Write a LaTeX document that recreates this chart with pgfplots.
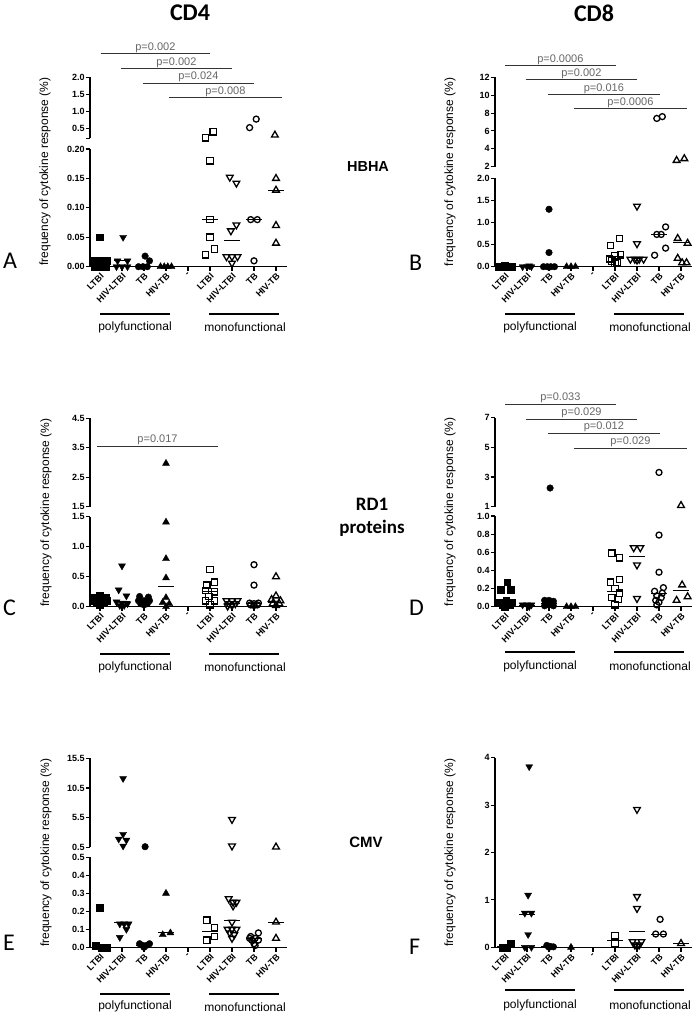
\documentclass[border=0pt]{standalone}
\usepackage{pgfplots}
\pgfplotsset{compat=1.18}
\usepackage{fontspec}
\setmainfont{Liberation Sans}
\newfontfamily\calibri{Carlito}
\newcommand\tlf{\fontsize{9}{10}\selectfont\bfseries}
\pgfplotsset{
  gpbase/.style={scale only axis, clip=false, width=197pt, xmin=-0.4545, xmax=8.5,
    every tick/.style={black, line width=1.1pt},
    tick align=outside, major tick length=4.2pt,
    ticklabel style={font=\tlf},
    yticklabel style={inner sep=1pt}},
  noarr/.style={axis line style={line width=1.1pt, -},
    x axis line style={-}, y axis line style={-},
    every outer x axis line/.append style={-},
    every outer y axis line/.append style={-},
    every inner x axis line/.append style={-},
    every inner y axis line/.append style={-}},
  gplow/.style={gpbase, axis x line*=bottom, axis y line*=left, xtick pos=bottom, ytick pos=left,
    xtick={0,...,8},
    xticklabels={LTBI,HIV-LTBI,TB,HIV-TB,-,LTBI,HIV-LTBI,TB,HIV-TB},
    xticklabel style={rotate=45, anchor=north east, inner sep=1pt}, noarr},
  gpup/.style={gpbase, axis x line=none, axis y line*=left, ytick pos=left, xtick=\empty, noarr},
  fsq/.style={only marks, mark=square*, mark size=3.4pt, mark options={draw=black, fill=black, line width=0.4pt}},
  fdt/.style={only marks, mark=triangle*, mark size=4pt, mark options={rotate=180, draw=black, fill=black, line width=0.4pt}},
  fci/.style={only marks, mark=*, mark size=3.3pt, mark options={draw=black, fill=black, line width=0.4pt}},
  fut/.style={only marks, mark=triangle*, mark size=4pt, mark options={draw=black, fill=black, line width=0.4pt}},
  osq/.style={only marks, mark=square, mark size=3.2pt, mark options={draw=black, line width=1.3pt}},
  odt/.style={only marks, mark=triangle, mark size=3.9pt, mark options={rotate=180, draw=black, line width=1.3pt}},
  oci/.style={only marks, mark=o, mark size=3.0pt, mark options={draw=black, line width=1.3pt}},
  out/.style={only marks, mark=triangle, mark size=3.9pt, mark options={draw=black, line width=1.3pt}},
  med/.style={no markers, black, line width=1pt},
}
\tikzset{
  ptext/.style={font=\fontsize{11}{13}\selectfont, text=black!60, anchor=south, inner sep=1pt},
  pline/.style={draw=black!80, line width=1pt},
  grp/.style={font=\fontsize{12}{14}\selectfont},
  gbar/.style={line width=2.2pt},
  ylab/.style={font=\fontsize{12}{14}\selectfont, rotate=90},
  letter/.style={font=\calibri\fontsize{24}{26}\selectfont, anchor=west, inner sep=0pt},
}
\begin{document}
\begin{tikzpicture}
\path (0,0) rectangle (698pt,-1019pt);

% ================= Panel A =================
\begin{axis}[gplow, at={(90pt,-266.7pt)}, anchor=south west, height=117.7pt,
  ymin=0, ymax=0.2, ytick={0,0.05,0.1,0.15,0.2}, yticklabels={0.00,0.05,0.10,0.15,0.20}]
\addplot[fsq] coordinates {(0,0.05)(-0.25,0.01)(0.05,0.01)(0.3,0.01)(-0.25,0)(0,0)(0.25,0)};
\addplot[fdt] coordinates {(1.05,0.05)(0.8,0.01)(1.25,0.01)(0.75,0)(1.0,0)(1.25,0)};
\addplot[fci] coordinates {(2.05,0.018)(2.25,0.01)(1.75,0)(1.95,0)(2.15,0)};
\addplot[fut] coordinates {(2.75,0)(2.92,0)(3.08,0)(3.25,0)};
\addplot[med] coordinates {(-0.35,0.01)(0.35,0.01)};
\addplot[med] coordinates {(0.65,0.01)(1.35,0.01)};
\addplot[med] coordinates {(1.65,0)(2.35,0)};
\addplot[osq] coordinates {(5,0.18)(5,0.08)(5,0.05)(4.8,0.02)(5.2,0.03)};
\addplot[odt] coordinates {(5.9,0.152)(6.2,0.142)(6.2,0.071)(5.95,0.061)(5.75,0.017)(6.0,0.017)(6.25,0.017)(6.0,0.006)};
\addplot[oci] coordinates {(6.85,0.08)(7.15,0.08)(7.0,0.01)};
\addplot[out] coordinates {(8,0.15)(8,0.13)(8,0.07)(8,0.04)};
\addplot[med] coordinates {(4.65,0.08)(5.35,0.08)};
\addplot[med] coordinates {(5.65,0.045)(6.35,0.045)};
\addplot[med] coordinates {(6.65,0.08)(7.35,0.08)};
\addplot[med] coordinates {(7.65,0.13)(8.35,0.13)};
\end{axis}
\begin{axis}[gpup, at={(90pt,-138.5pt)}, anchor=south west, height=61.2pt,
  ymin=0.2, ymax=2, ytick={0.5,1,1.5,2}, yticklabels={0.5,1.0,1.5,2.0},
  extra y ticks={0.2}, extra y tick labels={}]
\addplot[osq] coordinates {(4.8,0.22)(5.15,0.40)};
\addplot[oci] coordinates {(6.8,0.52)(7.1,0.77)};
\addplot[out] coordinates {(7.95,0.30)};
\end{axis}

% ================= Panel B =================
\begin{axis}[gplow, at={(495pt,-266.7pt)}, anchor=south west, height=88.4pt,
  ymin=0, ymax=2, ytick={0,0.5,1,1.5,2}, yticklabels={0.0,0.5,1.0,1.5,2.0}]
\addplot[fsq] coordinates {(-0.3,0)(-0.1,0)(0.1,0)(0.3,0)(0,0.02)(-0.2,0.01)(0.2,0.01)};
\addplot[fdt] coordinates {(0.8,0)(1.0,0)(1.2,0)(1.1,0.02)};
\addplot[fci] coordinates {(2,1.3)(2,0.32)(1.75,0)(1.92,0)(2.08,0)(2.25,0)};
\addplot[fut] coordinates {(2.8,0)(3.0,0)(3.2,0)};
\addplot[osq] coordinates {(5.2,0.64)(4.8,0.48)(5.25,0.27)(5.0,0.25)(4.75,0.18)(4.85,0.13)(5.1,0.1)(5.0,0.08)};
\addplot[odt] coordinates {(6,1.37)(6,0.52)(5.7,0.17)(5.9,0.17)(6.1,0.17)(6.3,0.17)(6.0,0.15)};
\addplot[oci] coordinates {(7.3,0.9)(6.9,0.73)(7.1,0.73)(7.3,0.42)(6.8,0.26)};
\addplot[out] coordinates {(7.85,0.64)(8.3,0.53)(7.85,0.19)(8.05,0.09)(8.25,0.09)};
\addplot[med] coordinates {(4.65,0.22)(5.35,0.22)};
\addplot[med] coordinates {(5.65,0.2)(6.35,0.2)};
\addplot[med] coordinates {(6.65,0.73)(7.35,0.73)};
\addplot[med] coordinates {(7.65,0.55)(8.35,0.55)};
\end{axis}
\begin{axis}[gpup, at={(495pt,-166.7pt)}, anchor=south west, height=89.4pt,
  ymin=2, ymax=12, ytick={2,4,6,8,10,12}, yticklabels={2,4,6,8,10,12}]
\addplot[oci] coordinates {(6.9,7.4)(7.15,7.6)};
\addplot[out] coordinates {(7.8,2.7)(8.15,2.9)};
\end{axis}

% ================= Panel C =================
\begin{axis}[gplow, at={(90pt,-606.7pt)}, anchor=south west, height=90pt,
  ymin=0, ymax=1.5, ytick={0,0.5,1,1.5}, yticklabels={0.0,0.5,1.0,1.5}]
\addplot[fsq] coordinates {(0,0.18)(-0.25,0.15)(0.25,0.15)(-0.3,0.1)(0,0.12)(0.3,0.1)(-0.15,0.06)(0.15,0.06)(0,0.03)};
\addplot[fdt] coordinates {(1,0.68)(0.85,0.28)(1.2,0.18)(0.75,0.08)(1.0,0.06)(1.25,0.05)(0.9,0.02)(1.1,0.02)};
\addplot[fci] coordinates {(1.8,0.17)(2.2,0.16)(1.75,0.1)(2.0,0.1)(2.25,0.1)(1.85,0.05)(2.15,0.05)(2.0,0.03)};
\addplot[fut] coordinates {(3,1.41)(3,0.8)(3,0.48)(3,0.15)(2.85,0.07)(3.15,0.05)(3.0,0.0)};
\addplot[med] coordinates {(-0.35,0.1)(0.35,0.1)};
\addplot[med] coordinates {(0.65,0.08)(1.35,0.08)};
\addplot[med] coordinates {(1.65,0.08)(2.35,0.08)};
\addplot[med] coordinates {(2.65,0.33)(3.35,0.33)};
\addplot[osq] coordinates {(5,0.62)(5.2,0.41)(4.85,0.36)(4.8,0.27)(5.2,0.25)(4.95,0.17)(4.8,0.1)(5.2,0.1)(5.0,0.03)};
\addplot[odt] coordinates {(5.75,0.1)(6.0,0.1)(6.25,0.1)(5.85,0.05)(6.15,0.05)(6.0,0.02)(5.8,0.01)};
\addplot[oci] coordinates {(7,0.7)(7,0.36)(6.8,0.06)(7.0,0.05)(7.2,0.06)(6.85,0.03)(7.15,0.03)(7.0,0.02)};
\addplot[out] coordinates {(8,0.5)(8,0.18)(7.8,0.12)(8.2,0.1)(7.85,0.05)(8.15,0.05)(8.0,0.02)};
\addplot[med] coordinates {(4.65,0.25)(5.35,0.25)};
\addplot[med] coordinates {(5.65,0.06)(6.35,0.06)};
\addplot[med] coordinates {(6.65,0.05)(7.35,0.05)};
\addplot[med] coordinates {(7.65,0.07)(8.35,0.07)};
\end{axis}
\begin{axis}[gpup, at={(90pt,-506.7pt)}, anchor=south west, height=88.4pt,
  ymin=1.5, ymax=4.5, ytick={1.5,2.5,3.5,4.5}, yticklabels={1.5,2.5,3.5,4.5}]
\addplot[fut] coordinates {(3,2.97)};
\end{axis}

% ================= Panel D =================
\begin{axis}[gplow, at={(495pt,-606.7pt)}, anchor=south west, height=90.7pt,
  ymin=0, ymax=1, ytick={0,0.2,0.4,0.6,0.8,1}, yticklabels={0.0,0.2,0.4,0.6,0.8,1.0}]
\addplot[fsq] coordinates {(0.1,0.27)(-0.2,0.19)(0.25,0.19)(-0.25,0.05)(0.05,0.07)(0.3,0.05)(-0.1,0.02)(0.2,0.02)(0,0.0)};
\addplot[fdt] coordinates {(0.8,0.02)(1.0,0.02)(1.2,0.02)(1.1,0.0)};
\addplot[fci] coordinates {(1.8,0.07)(2.0,0.07)(2.2,0.06)(1.85,0.04)(2.15,0.04)(2.0,0.02)(1.8,0.01)(2.2,0.01)};
\addplot[fut] coordinates {(2.8,0)(3.0,0)(3.2,0)};
\addplot[med] coordinates {(-0.35,0.04)(0.35,0.04)};
\addplot[med] coordinates {(0.65,0.01)(1.35,0.01)};
\addplot[med] coordinates {(1.65,0.03)(2.35,0.03)};
\addplot[osq] coordinates {(4.85,0.59)(5.2,0.54)(5.2,0.3)(4.8,0.27)(5.0,0.2)(5.2,0.15)(4.85,0.1)(5.15,0.08)(5.0,0.02)};
\addplot[odt] coordinates {(5.85,0.65)(6.15,0.65)(6.0,0.46)(6.0,0.09)};
\addplot[oci] coordinates {(7,0.79)(7,0.38)(7.2,0.21)(6.8,0.17)(7.15,0.15)(6.9,0.12)(7.1,0.1)(6.85,0.07)(7.0,0.05)(6.9,0.02)};
\addplot[out] coordinates {(8.05,0.24)(7.8,0.07)(8.3,0.11)};
\addplot[med] coordinates {(4.65,0.17)(5.35,0.17)};
\addplot[med] coordinates {(5.65,0.55)(6.35,0.55)};
\addplot[med] coordinates {(6.65,0.15)(7.35,0.15)};
\addplot[med] coordinates {(7.65,0.18)(8.35,0.18)};
\end{axis}
\begin{axis}[gpup, at={(495pt,-506.7pt)}, anchor=south west, height=89pt,
  ymin=1, ymax=7, ytick={1,3,5,7}, yticklabels={1,3,5,7}]
\addplot[fci] coordinates {(2.05,2.26)};
\addplot[oci] coordinates {(7,3.31)};
\addplot[out] coordinates {(8.0,1.08)};
\end{axis}

% ================= Panel E =================
\begin{axis}[gplow, at={(90pt,-947.3pt)}, anchor=south west, height=90pt,
  ymin=0, ymax=0.5, ytick={0,0.1,0.2,0.3,0.4,0.5}, yticklabels={0.0,0.1,0.2,0.3,0.4,0.5}]
\addplot[fsq] coordinates {(0,0.22)(-0.2,0.01)(0.05,0)(0.3,0)};
\addplot[fdt] coordinates {(0.9,0.13)(1.1,0.13)(1.3,0.13)(1.2,0.1)(0.9,0.055)};
\addplot[fci] coordinates {(1.8,0.02)(1.95,0.01)(2.1,0.01)(2.25,0.02)(2.0,0.0)};
\addplot[fut] coordinates {(3,0.3)(2.85,0.07)(3.2,0.08)};
\addplot[med] coordinates {(-0.35,0.005)(0.35,0.005)};
\addplot[med] coordinates {(0.65,0.14)(1.35,0.14)};
\addplot[med] coordinates {(1.65,0.01)(2.35,0.01)};
\addplot[med] coordinates {(2.65,0.08)(3.35,0.08)};
\addplot[osq] coordinates {(4.85,0.15)(5.2,0.11)(5.2,0.06)(4.85,0.04)};
\addplot[odt] coordinates {(5.85,0.27)(6.05,0.25)(6.2,0.25)(6.05,0.23)(6.0,0.14)(5.8,0.1)(6.0,0.1)(6.2,0.1)(5.9,0.08)(6.1,0.07)(6.0,0.05)};
\addplot[oci] coordinates {(6.85,0.06)(7.2,0.08)(7.05,0.05)(6.9,0.04)(7.2,0.04)(7.0,0.02)(7.05,0.01)(6.8,0.05)};
\addplot[out] coordinates {(8,0.14)(8,0.05)};
\addplot[med] coordinates {(4.65,0.087)(5.35,0.087)};
\addplot[med] coordinates {(5.65,0.15)(6.35,0.15)};
\addplot[med] coordinates {(6.65,0.05)(7.35,0.05)};
\addplot[med] coordinates {(7.65,0.14)(8.35,0.14)};
\end{axis}
\begin{axis}[gpup, at={(90pt,-847.3pt)}, anchor=south west, height=89pt,
  ymin=0.5, ymax=15.5, ytick={0.5,5.5,10.5,15.5}, yticklabels={0.5,5.5,10.5,15.5}]
\addplot[fdt] coordinates {(1.05,12.1)(1.05,2.7)(0.85,1.9)(1.2,1.7)(1.05,0.72)};
\addplot[fci] coordinates {(2.05,0.6)};
\addplot[odt] coordinates {(6,5.2)(6,0.72)};
\addplot[out] coordinates {(8,0.55)};
\end{axis}

% ================= Panel F =================
\begin{axis}[gplow, at={(495pt,-947.3pt)}, anchor=south west, height=189.6pt,
  ymin=0, ymax=4, ytick={0,1,2,3,4}, yticklabels={0,1,2,3,4}]
\addplot[fsq] coordinates {(-0.1,0)(0.25,0.07)(0.1,0)};
\addplot[fdt] coordinates {(1.1,3.81)(1.05,1.1)(0.9,0.72)(1.2,0.72)(1.05,0.27)(0.9,0)(1.2,0)};
\addplot[fci] coordinates {(1.9,0.04)(2.05,0.02)(2.2,0.01)(2.0,0)};
\addplot[fut] coordinates {(3,0)};
\addplot[med] coordinates {(-0.35,0.02)(0.35,0.02)};
\addplot[med] coordinates {(0.65,0.7)(1.35,0.7)};
\addplot[med] coordinates {(1.65,0.01)(2.35,0.01)};
\addplot[osq] coordinates {(5,0.24)(5,0.08)};
\addplot[odt] coordinates {(6,2.91)(6,1.07)(6,0.82)(5.8,0.12)(6.2,0.12)(5.9,0.05)(6.1,0.05)(6.0,0.02)};
\addplot[oci] coordinates {(7.05,0.59)(6.85,0.28)(7.2,0.28)};
\addplot[out] coordinates {(8,0.08)};
\addplot[med] coordinates {(4.65,0.14)(5.35,0.14)};
\addplot[med] coordinates {(5.65,0.33)(6.35,0.33)};
\addplot[med] coordinates {(6.65,0.28)(7.35,0.28)};
\addplot[med] coordinates {(7.65,0.08)(8.35,0.08)};
\end{axis}

% ================= Annotations =================
\node[font=\calibri\bfseries\fontsize{24}{28}\selectfont] at (190pt,-13pt) {CD4};
\node[font=\calibri\bfseries\fontsize{24}{28}\selectfont] at (594pt,-13pt) {CD8};
\node[font=\bfseries\fontsize{14.5}{17}\selectfont] at (368pt,-167pt) {HBHA};
\node[font=\calibri\bfseries\fontsize{19}{22}\selectfont] at (372pt,-504pt) {RD1};
\node[font=\calibri\bfseries\fontsize{19}{22}\selectfont] at (372pt,-528pt) {proteins};
\node[font=\bfseries\fontsize{15}{17}\selectfont] at (366pt,-842pt) {CMV};
\node[letter] at (3pt,-260.7pt) {A};
\node[letter] at (409pt,-262.5pt) {B};
\node[letter] at (3pt,-608pt) {C};
\node[letter] at (409pt,-607.5pt) {D};
\node[letter] at (3pt,-942.5pt) {E};
\node[letter] at (409pt,-946.5pt) {F};
\node[ylab] at (45pt,-171.5pt) {frequency of cytokine response (\%)};
\node[ylab] at (450pt,-172pt) {frequency of cytokine response (\%)};
\node[ylab] at (46pt,-512.5pt) {frequency of cytokine response (\%)};
\node[ylab] at (450pt,-512pt) {frequency of cytokine response (\%)};
\node[ylab] at (46pt,-852.7pt) {frequency of cytokine response (\%)};
\node[ylab] at (450pt,-852.5pt) {frequency of cytokine response (\%)};
\foreach \x/\y/\t in {90/314/327, 495/314/327, 90/654/667, 495/651.7/666, 90/994/1006.7, 495/990/1005}{
  \draw[gbar] (\x pt+10pt,-\y pt) -- (\x pt+80pt,-\y pt);
  \draw[gbar] (\x pt+119pt,-\y pt) -- (\x pt+189pt,-\y pt);
  \node[grp] at (\x pt+45pt,-\t pt) {polyfunctional};
  \node[grp] at (\x pt+155pt,-\t pt) {monofunctional};
}
\foreach \a/\b/\y/\p in {100.7/210/54/0.002, 120.7/232/69/0.002, 142.7/254/83.3/0.024, 169/281.7/98/0.008,
  505/615.7/65.7/0.0006, 525.7/637/80/0.002, 547.7/660/94.7/0.016, 574/686.7/109/0.0006,
  97/218/446/0.017,
  505/615.7/404.3/0.033, 525.7/637.3/419.3/0.029, 547.7/660/433.3/0.012, 574/686.7/448.3/0.029}{
  \draw[pline] (\a pt,-\y pt) -- (\b pt,-\y pt);
  \node[ptext] at ({(\a+\b)/2*1pt},-\y pt) {p=\p};
}
\pgfresetboundingbox
\path[use as bounding box] (0,0) rectangle (698pt,-1019pt);
\end{tikzpicture}
\end{document}
